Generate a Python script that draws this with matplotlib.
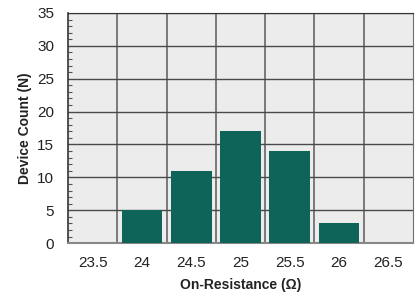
import matplotlib
matplotlib.use("Agg")
import matplotlib.pyplot as plt
import numpy as np

# data
bins = ["23.5", "24", "24.5", "25", "25.5", "26", "26.5"]
counts = [0, 5, 11, 17, 14, 3, 0]

plt.rcParams["font.family"] = ["Liberation Sans", "DejaVu Sans"]

fig = plt.figure(figsize=(4.15, 2.94), dpi=100)
ax = fig.add_axes([0.164, 0.173, 0.831, 0.783])
ax.set_facecolor("#ececec")

x = np.arange(len(bins))
ax.bar(x, counts, width=0.83, color="#0f6459", zorder=3)

ax.set_xlim(-0.5, len(bins) - 0.5)
ax.set_ylim(0, 35)
ax.set_xticks(x)
ax.set_xticklabels(bins)
ax.set_xticks(x[:-1] + 0.5, minor=True)
ax.set_yticks(np.arange(0, 36, 5))
ax.set_yticks(np.arange(0, 36, 1), minor=True)

ax.grid(axis="y", which="major", color="#4a4a4a", linewidth=1.0, zorder=1)
ax.grid(axis="x", which="minor", color="#5a5a5a", linewidth=1.1, zorder=1)

ax.tick_params(axis="x", which="both", length=0, labelsize=11, pad=9, colors="#222222")
ax.tick_params(axis="y", which="major", length=0, labelsize=11, pad=10, colors="#222222")
ax.tick_params(axis="y", which="minor", direction="in", length=3, width=0.8, color="#555555")

ax.spines["left"].set_color("#333333")
ax.spines["left"].set_linewidth(1.2)
ax.spines["bottom"].set_color("#888888")
ax.spines["bottom"].set_linewidth(1.5)
ax.spines["top"].set_color("#333333")
ax.spines["right"].set_color("#6e6e6e")

ax.set_xlabel("On-Resistance (Ω)", fontsize=10, fontweight="bold", color="#222222", labelpad=6)
ax.set_ylabel("Device Count (N)", fontsize=10, fontweight="bold", color="#222222", labelpad=4)

fig.savefig("out.png", dpi=100)
